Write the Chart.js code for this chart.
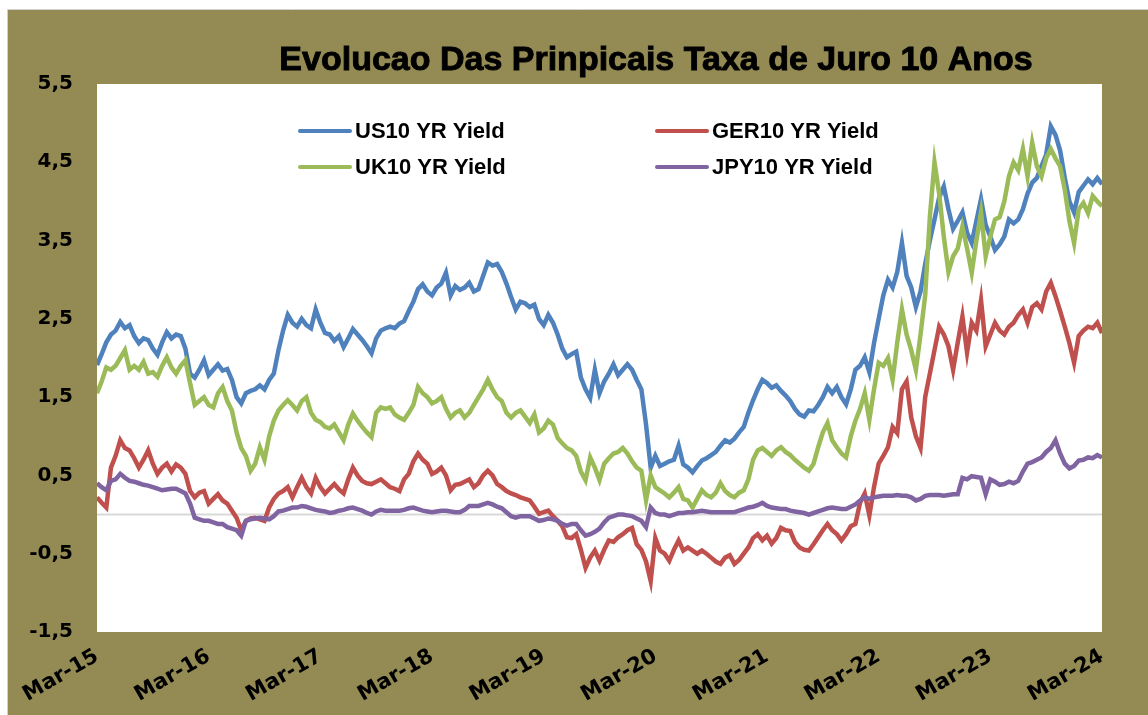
<!DOCTYPE html>
<html>
<head>
<meta charset="utf-8">
<script src="https://cdn.jsdelivr.net/npm/chart.js@4.4.1/dist/chart.umd.min.js"></script>
<style>
  html, body { margin: 0; padding: 0; background: #fff; }
  #wrap { width: 1148px; height: 715px; }
</style>
</head>
<body>
<div id="wrap"><canvas id="myChart" width="1148" height="715"></canvas></div>
<script>
// tick labels for the time axis (one per year, every 12 months)
var tickLabels = ['Mar-15','Mar-16','Mar-17','Mar-18','Mar-19','Mar-20','Mar-21','Mar-22','Mar-23','Mar-24'];
var seriesNames = ['US10 YR Yield','GER10 YR Yield','UK10 YR Yield','JPY10 YR Yield'];

// semi-monthly readings, Mar-15 .. Mar-24
var us10 = [
  1.91,2.05,2.2,2.3,2.35,2.46,2.38,2.42,2.28,2.19,2.25,2.23,
  2.12,2.04,2.2,2.33,2.25,2.3,2.28,2.12,1.8,1.75,1.85,1.97,
  1.78,1.85,1.92,1.84,1.86,1.72,1.5,1.42,1.55,1.58,1.6,1.65,
  1.6,1.72,1.8,2.1,2.35,2.55,2.45,2.4,2.5,2.42,2.38,2.62,
  2.45,2.32,2.3,2.22,2.28,2.14,2.25,2.37,2.3,2.23,2.15,2.06,
  2.25,2.35,2.38,2.4,2.38,2.44,2.47,2.6,2.72,2.88,2.94,2.85,
  2.8,2.9,2.95,3.09,2.8,2.92,2.87,2.9,2.96,2.85,2.88,3.05,
  3.22,3.18,3.2,3.1,2.95,2.78,2.62,2.72,2.7,2.65,2.68,2.5,
  2.42,2.55,2.45,2.3,2.12,2.01,2.05,2.08,1.75,1.6,1.49,1.85,
  1.55,1.7,1.8,1.92,1.78,1.85,1.92,1.85,1.72,1.6,1.15,0.6,
  0.75,0.62,0.65,0.68,0.7,0.88,0.64,0.6,0.54,0.62,0.69,0.72,
  0.76,0.8,0.88,0.95,0.92,0.97,1.05,1.12,1.3,1.46,1.6,1.72,
  1.68,1.62,1.65,1.58,1.52,1.45,1.35,1.28,1.25,1.33,1.32,1.4,
  1.5,1.63,1.55,1.63,1.5,1.41,1.6,1.85,1.9,2.01,1.82,2.19,
  2.5,2.8,3.0,2.9,3.1,3.47,3.05,2.9,2.65,2.85,3.2,3.5,
  3.77,4.05,4.19,3.9,3.65,3.75,3.86,3.6,3.47,3.75,4.03,3.7,
  3.55,3.38,3.45,3.55,3.77,3.72,3.77,3.9,4.1,4.24,4.3,4.45,
  4.6,4.96,4.85,4.65,4.3,4.0,3.86,4.12,4.2,4.28,4.22,4.3,
  4.22
];
var ger10 = [
  0.22,0.15,0.09,0.6,0.75,0.95,0.85,0.82,0.72,0.6,0.7,0.82,
  0.65,0.52,0.6,0.65,0.55,0.64,0.6,0.52,0.3,0.22,0.28,0.3,
  0.14,0.2,0.26,0.18,0.14,0.05,-0.04,-0.2,-0.08,-0.05,-0.04,-0.06,
  -0.08,0.09,0.2,0.27,0.3,0.35,0.22,0.35,0.47,0.35,0.27,0.47,
  0.35,0.27,0.33,0.39,0.32,0.27,0.45,0.6,0.5,0.43,0.4,0.39,
  0.42,0.45,0.4,0.35,0.33,0.3,0.45,0.52,0.68,0.78,0.7,0.65,
  0.52,0.55,0.6,0.5,0.31,0.38,0.39,0.42,0.45,0.35,0.4,0.5,
  0.56,0.5,0.39,0.35,0.3,0.27,0.25,0.22,0.2,0.18,0.1,0.01,
  0.03,0.05,-0.02,-0.08,-0.15,-0.29,-0.3,-0.25,-0.45,-0.68,-0.55,-0.46,
  -0.59,-0.45,-0.33,-0.35,-0.29,-0.25,-0.2,-0.17,-0.38,-0.45,-0.6,-0.85,
  -0.3,-0.46,-0.5,-0.59,-0.45,-0.33,-0.46,-0.42,-0.46,-0.5,-0.46,-0.5,
  -0.55,-0.6,-0.63,-0.55,-0.52,-0.63,-0.58,-0.5,-0.42,-0.3,-0.25,-0.33,
  -0.27,-0.37,-0.3,-0.17,-0.2,-0.21,-0.35,-0.42,-0.45,-0.46,-0.38,-0.29,
  -0.2,-0.12,-0.2,-0.25,-0.33,-0.25,-0.15,-0.12,0.15,0.27,-0.01,0.35,
  0.65,0.75,0.86,1.12,1.04,1.6,1.7,1.24,1.0,0.85,1.5,1.8,
  2.1,2.4,2.3,2.15,1.85,2.2,2.53,2.07,2.45,2.35,2.74,2.15,
  2.3,2.45,2.35,2.3,2.4,2.45,2.55,2.62,2.45,2.65,2.7,2.62,
  2.85,2.96,2.79,2.6,2.4,2.19,1.94,2.28,2.35,2.4,2.38,2.45,
  2.32
];
var uk10 = [
  1.55,1.7,1.88,1.85,1.9,2.0,2.1,1.85,1.9,1.85,1.95,1.8,
  1.82,1.76,1.9,2.01,1.88,1.8,1.9,1.97,1.68,1.4,1.45,1.5,
  1.4,1.37,1.55,1.63,1.45,1.33,1.05,0.85,0.75,0.56,0.65,0.86,
  0.7,1.0,1.2,1.33,1.4,1.46,1.4,1.33,1.45,1.5,1.3,1.21,
  1.18,1.12,1.1,1.15,1.05,0.95,1.15,1.29,1.2,1.12,1.05,0.99,
  1.3,1.37,1.35,1.37,1.28,1.24,1.21,1.3,1.4,1.63,1.55,1.5,
  1.42,1.45,1.5,1.35,1.24,1.3,1.33,1.24,1.3,1.4,1.5,1.6,
  1.72,1.6,1.5,1.45,1.3,1.24,1.3,1.33,1.25,1.17,1.28,1.05,
  1.1,1.2,1.15,0.98,0.91,0.85,0.82,0.75,0.55,0.44,0.73,0.6,
  0.44,0.65,0.72,0.78,0.8,0.85,0.78,0.68,0.6,0.56,0.18,0.5,
  0.35,0.31,0.27,0.22,0.28,0.35,0.2,0.18,0.09,0.2,0.31,0.25,
  0.22,0.28,0.4,0.3,0.25,0.22,0.28,0.31,0.45,0.7,0.82,0.85,
  0.8,0.75,0.82,0.86,0.8,0.76,0.7,0.65,0.6,0.56,0.65,0.86,
  1.05,1.17,0.95,0.86,0.78,0.73,1.0,1.2,1.35,1.55,1.21,1.6,
  1.94,1.9,2.0,1.72,2.2,2.62,2.3,2.1,1.85,2.3,2.8,3.8,
  4.5,4.1,3.55,3.1,3.3,3.4,3.68,3.4,3.09,3.5,3.86,3.3,
  3.55,3.77,3.8,4.0,4.32,4.5,4.4,4.67,4.32,4.75,4.45,4.32,
  4.55,4.67,4.55,4.45,4.15,3.75,3.47,3.9,3.98,3.85,4.07,4.0,
  3.94
];
var jpy10 = [
  0.4,0.35,0.31,0.43,0.45,0.52,0.47,0.43,0.42,0.4,0.38,0.37,
  0.35,0.33,0.31,0.32,0.33,0.33,0.3,0.27,0.14,-0.04,-0.06,-0.08,
  -0.08,-0.1,-0.12,-0.12,-0.16,-0.18,-0.2,-0.27,-0.08,-0.06,-0.05,-0.04,
  -0.05,-0.06,-0.02,0.04,0.05,0.07,0.09,0.09,0.11,0.1,0.08,0.06,
  0.05,0.04,0.02,0.03,0.05,0.06,0.08,0.09,0.07,0.05,0.02,0.0,
  0.04,0.06,0.05,0.05,0.05,0.05,0.06,0.08,0.09,0.07,0.05,0.04,
  0.03,0.04,0.05,0.05,0.04,0.03,0.03,0.06,0.11,0.11,0.11,0.13,
  0.15,0.13,0.1,0.08,0.03,-0.02,-0.04,-0.02,-0.02,-0.02,-0.05,-0.08,
  -0.07,-0.05,-0.06,-0.08,-0.12,-0.14,-0.12,-0.12,-0.2,-0.27,-0.25,-0.22,
  -0.18,-0.1,-0.04,-0.02,0.0,0.0,-0.01,-0.02,-0.05,-0.08,-0.16,0.09,
  0.02,0.0,0.0,-0.02,0.0,0.02,0.02,0.03,0.03,0.04,0.05,0.04,
  0.03,0.03,0.03,0.03,0.03,0.03,0.05,0.07,0.09,0.1,0.12,0.15,
  0.11,0.09,0.08,0.07,0.07,0.05,0.04,0.03,0.02,0.0,0.02,0.04,
  0.06,0.08,0.09,0.08,0.07,0.07,0.1,0.13,0.18,0.22,0.2,0.22,
  0.23,0.24,0.24,0.24,0.25,0.24,0.24,0.22,0.18,0.2,0.24,0.25,
  0.25,0.25,0.24,0.25,0.26,0.26,0.47,0.45,0.49,0.48,0.47,0.26,
  0.45,0.42,0.38,0.39,0.42,0.4,0.43,0.55,0.65,0.67,0.7,0.73,
  0.8,0.85,0.95,0.78,0.65,0.59,0.62,0.69,0.7,0.73,0.72,0.76,
  0.73
];

var colors = ['#4F81BD', '#C0504D', '#9BBB59', '#8064A2'];

function toPoints(arr) {
  // each reading is half a month after the previous one
  return arr.map(function(v, i) { return { x: i / 2, y: v }; });
}

var bgPlugin = {
  id: 'bg',
  beforeDraw: function(chart) {
    var c = chart.ctx, a = chart.chartArea;
    c.save();
    c.fillStyle = '#ffffff';
    c.fillRect(0, 0, chart.width, chart.height);
    c.fillStyle = '#948A54';
    c.fillRect(8, 10, chart.width - 8, chart.height - 10);
    c.strokeStyle = '#d0d0d0';
    c.lineWidth = 1;
    c.beginPath();
    c.moveTo(7.5, chart.height); c.lineTo(7.5, 9.5); c.lineTo(chart.width, 9.5);
    c.stroke();
    c.fillStyle = '#ffffff';
    c.fillRect(a.left, a.top, a.right - a.left, a.bottom - a.top);
    c.restore();
  },
  afterDraw: function(chart) {
    var c = chart.ctx;
    c.save();
    c.fillStyle = '#000';
    c.strokeStyle = '#000';
    c.lineWidth = 0.9;
    c.textAlign = 'center';
    c.textBaseline = 'middle';
    c.font = 'bold 34px "Liberation Sans", Arial, sans-serif';
    c.fillText('Evolucao Das Prinpicais Taxa de Juro 10 Anos', 656, 61);
    c.strokeText('Evolucao Das Prinpicais Taxa de Juro 10 Anos', 656, 61);
    c.restore();

    // legend, two columns inside plot area
    var cols = [298, 655], rows = [131, 167];
    for (var i = 0; i < 4; i++) {
      var x = cols[i % 2], y = rows[Math.floor(i / 2)];
      c.save();
      c.strokeStyle = colors[i];
      c.lineWidth = 4;
      c.lineCap = 'round';
      c.beginPath(); c.moveTo(x + 2, y); c.lineTo(x + 52, y); c.stroke();
      c.fillStyle = '#000';
      c.textAlign = 'left';
      c.textBaseline = 'middle';
      c.font = 'bold 22px "Liberation Sans", Arial, sans-serif';
      c.fillText(seriesNames[i], x + 57, y + 1);
      c.restore();
    }
  }
};

function lineSet(i, data, order) {
  return {
    label: seriesNames[i],
    data: toPoints(data),
    borderColor: colors[i],
    backgroundColor: colors[i],
    borderWidth: 4.5,
    pointRadius: 0,
    tension: 0,
    order: order
  };
}

var ctx = document.getElementById('myChart');
var myChart = new Chart(ctx, {
  type: 'line',
  data: {
    datasets: [
      lineSet(0, us10, 4),
      lineSet(1, ger10, 3),
      lineSet(2, uk10, 2),
      lineSet(3, jpy10, 1),
      {
        label: 'zero',
        data: [{ x: 0, y: 0 }, { x: 108, y: 0 }],
        borderColor: '#d9d9d9',
        borderWidth: 2,
        pointRadius: 0,
        order: 9
      }
    ]
  },
  options: {
    responsive: false,
    animation: false,
    layout: { padding: { top: 84, right: 46, left: 0, bottom: 0 } },
    plugins: {
      legend: { display: false },
      title: { display: false },
      tooltip: { enabled: false }
    },
    scales: {
      x: {
        type: 'linear',
        min: 0,
        max: 108,
        border: { display: false },
        grid: { display: false, drawTicks: false },
        ticks: {
          stepSize: 12,
          autoSkip: false,
          minRotation: 30,
          maxRotation: 30,
          padding: 12,
          color: '#000',
          font: { family: '"DejaVu Sans"', weight: 'bold', size: 21 },
          callback: function(v) { return tickLabels[v / 12]; }
        },
        afterFit: function(s) { s.height = 83; }
      },
      y: {
        min: -1.5,
        max: 5.5,
        border: { display: false },
        grid: { display: false, drawTicks: false },
        ticks: {
          stepSize: 1,
          padding: 24,
          color: '#000',
          font: { family: '"DejaVu Sans"', weight: 'bold', size: 20 },
          callback: function(v) { return v.toFixed(1).replace('.', ','); }
        },
        afterFit: function(s) { s.width = 97; }
      }
    }
  },
  plugins: [bgPlugin]
});
</script>
</body>
</html>
